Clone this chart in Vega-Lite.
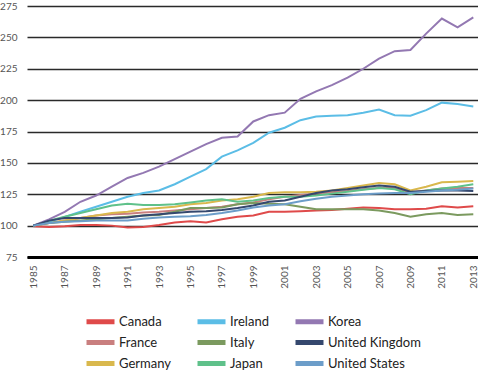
{
  "$schema": "https://vega.github.io/schema/vega-lite/v6.json",
  "autosize": {"type": "none"},
  "padding": {"left": 27, "top": 6, "right": 0, "bottom": 114},
  "width": 451,
  "height": 251,
  "background": "white",
  "config": {
    "font": "Lato",
    "view": {"stroke": null},
    "axis": {"labelFont": "Lato", "labelColor": "#555", "labelFontSize": 10}
  },
  "data": {
    "values": [
      {"year": 1985, "Canada": 99.5, "France": 100, "Germany": 100, "Ireland": 100, "Italy": 100, "Japan": 100, "Korea": 100, "United Kingdom": 100, "United States": 100},
      {"year": 1986, "Canada": 99, "France": 102, "Germany": 102, "Ireland": 103, "Italy": 102, "Japan": 104, "Korea": 105, "United Kingdom": 104, "United States": 102},
      {"year": 1987, "Canada": 99.5, "France": 104, "Germany": 104, "Ireland": 107, "Italy": 103, "Japan": 107, "Korea": 111, "United Kingdom": 106, "United States": 103},
      {"year": 1988, "Canada": 100.5, "France": 106, "Germany": 106, "Ireland": 111, "Italy": 104, "Japan": 110, "Korea": 119, "United Kingdom": 106, "United States": 103.5},
      {"year": 1989, "Canada": 100.5, "France": 108, "Germany": 108, "Ireland": 115, "Italy": 105, "Japan": 113, "Korea": 124, "United Kingdom": 106, "United States": 104},
      {"year": 1990, "Canada": 100, "France": 109, "Germany": 110, "Ireland": 119, "Italy": 106, "Japan": 116, "Korea": 131, "United Kingdom": 106, "United States": 104},
      {"year": 1991, "Canada": 98.5, "France": 109.5, "Germany": 111, "Ireland": 123, "Italy": 107, "Japan": 117.5, "Korea": 138, "United Kingdom": 106.5, "United States": 104},
      {"year": 1992, "Canada": 99, "France": 110.5, "Germany": 113, "Ireland": 126, "Italy": 108, "Japan": 116.5, "Korea": 142, "United Kingdom": 108, "United States": 105.5},
      {"year": 1993, "Canada": 100.5, "France": 111, "Germany": 114, "Ireland": 128, "Italy": 108.5, "Japan": 116.5, "Korea": 147, "United Kingdom": 109, "United States": 106.5},
      {"year": 1994, "Canada": 102.5, "France": 112, "Germany": 115, "Ireland": 133, "Italy": 111, "Japan": 117, "Korea": 153, "United Kingdom": 110, "United States": 107},
      {"year": 1995, "Canada": 103.5, "France": 113, "Germany": 117, "Ireland": 139, "Italy": 114, "Japan": 118.5, "Korea": 159, "United Kingdom": 111, "United States": 107.5},
      {"year": 1996, "Canada": 102.5, "France": 114, "Germany": 118, "Ireland": 145, "Italy": 114, "Japan": 120, "Korea": 165, "United Kingdom": 111.5, "United States": 108.5},
      {"year": 1997, "Canada": 105, "France": 115, "Germany": 120, "Ireland": 155, "Italy": 114.5, "Japan": 121, "Korea": 170, "United Kingdom": 112.5, "United States": 110},
      {"year": 1998, "Canada": 107, "France": 117, "Germany": 121, "Ireland": 160, "Italy": 117, "Japan": 119, "Korea": 171, "United Kingdom": 114, "United States": 112},
      {"year": 1999, "Canada": 108, "France": 118.5, "Germany": 123, "Ireland": 166, "Italy": 118, "Japan": 120, "Korea": 183, "United Kingdom": 116, "United States": 114.5},
      {"year": 2000, "Canada": 111, "France": 121, "Germany": 126, "Ireland": 174, "Italy": 117.5, "Japan": 122, "Korea": 188, "United Kingdom": 119, "United States": 116},
      {"year": 2001, "Canada": 111, "France": 123, "Germany": 126.5, "Ireland": 178, "Italy": 117, "Japan": 123, "Korea": 190, "United Kingdom": 120, "United States": 117},
      {"year": 2002, "Canada": 111.5, "France": 124.5, "Germany": 126.5, "Ireland": 184, "Italy": 115, "Japan": 123, "Korea": 201, "United Kingdom": 123, "United States": 119.5},
      {"year": 2003, "Canada": 112, "France": 125.5, "Germany": 127, "Ireland": 187, "Italy": 113, "Japan": 124, "Korea": 207, "United Kingdom": 126, "United States": 121.5},
      {"year": 2004, "Canada": 112.5, "France": 126.5, "Germany": 128, "Ireland": 187.5, "Italy": 113, "Japan": 125.5, "Korea": 212, "United Kingdom": 128, "United States": 123},
      {"year": 2005, "Canada": 113.5, "France": 127.5, "Germany": 130, "Ireland": 188, "Italy": 113, "Japan": 127, "Korea": 218, "United Kingdom": 129, "United States": 124},
      {"year": 2006, "Canada": 114.5, "France": 129, "Germany": 132, "Ireland": 190, "Italy": 113, "Japan": 128.5, "Korea": 225, "United Kingdom": 130.5, "United States": 125},
      {"year": 2007, "Canada": 114, "France": 130, "Germany": 134, "Ireland": 192.5, "Italy": 112, "Japan": 130, "Korea": 233, "United Kingdom": 132, "United States": 125.5},
      {"year": 2008, "Canada": 113, "France": 130, "Germany": 133, "Ireland": 188, "Italy": 110, "Japan": 129, "Korea": 239, "United Kingdom": 131, "United States": 126},
      {"year": 2009, "Canada": 113, "France": 126.5, "Germany": 128, "Ireland": 187.5, "Italy": 107, "Japan": 125, "Korea": 240, "United Kingdom": 127, "United States": 126},
      {"year": 2010, "Canada": 113.5, "France": 128, "Germany": 131, "Ireland": 192, "Italy": 109, "Japan": 128, "Korea": 253, "United Kingdom": 127.5, "United States": 127},
      {"year": 2011, "Canada": 115.5, "France": 129.5, "Germany": 134.5, "Ireland": 198, "Italy": 110, "Japan": 129.5, "Korea": 265, "United Kingdom": 128, "United States": 128},
      {"year": 2012, "Canada": 114.5, "France": 130, "Germany": 135, "Ireland": 197, "Italy": 108.5, "Japan": 131, "Korea": 258, "United Kingdom": 128, "United States": 128.5},
      {"year": 2013, "Canada": 115.5, "France": 130, "Germany": 135.5, "Ireland": 195, "Italy": 109, "Japan": 133, "Korea": 266, "United Kingdom": 127.5, "United States": 129.5}
    ]
  },
  "transform": [
    {"fold": ["Canada", "France", "Germany", "Ireland", "Italy", "Japan", "Korea", "United Kingdom", "United States"], "as": ["country", "value"]}
  ],
  "mark": {"type": "line", "strokeWidth": 2, "interpolate": "linear"},
  "encoding": {
    "x": {
      "field": "year", "type": "quantitative",
      "scale": {"domain": [1984.6, 2013.3], "nice": false, "zero": false},
      "axis": {
        "title": null, "values": [1985, 1987, 1989, 1991, 1993, 1995, 1997, 1999, 2001, 2003, 2005, 2007, 2009, 2011, 2013],
        "format": "d", "labelAngle": -90, "labelAlign": "right", "labelBaseline": "middle", "labelPadding": 8,
        "grid": false, "ticks": false, "domain": true, "domainColor": "#000", "domainWidth": 3
      }
    },
    "y": {
      "field": "value", "type": "quantitative",
      "scale": {"domain": [75, 275], "nice": false, "zero": false},
      "axis": {
        "title": null, "values": [75, 100, 125, 150, 175, 200, 225, 250, 275],
        "grid": true, "gridColor": "#2a2a2a", "gridWidth": 1.5, "ticks": false, "domain": false, "labelPadding": 10
      }
    },
    "color": {
      "field": "country", "type": "nominal",
      "scale": {
        "domain": ["Canada", "France", "Germany", "Ireland", "Italy", "Japan", "Korea", "United Kingdom", "United States"],
        "range": ["#df4a4a", "#c97f7f", "#d9b84d", "#5bbde6", "#7b9a5f", "#5fc18a", "#9378b2", "#35486e", "#6c9dc9"]
      },
      "legend": {
        "title": null, "orient": "none", "legendX": 63, "legendY": 305, "columns": 3,
        "values": ["Canada", "France", "Germany", "Ireland", "Italy", "Japan", "Korea", "United Kingdom", "United States"],
        "symbolType": "M-1.75,0H1.75", "symbolSize": 256, "symbolStrokeWidth": 5,
        "labelFont": "Lato", "labelFontSize": 13, "labelColor": "#222", "labelOffset": 8,
        "rowPadding": 0, "columnPadding": 16
      }
    }
  }
}
